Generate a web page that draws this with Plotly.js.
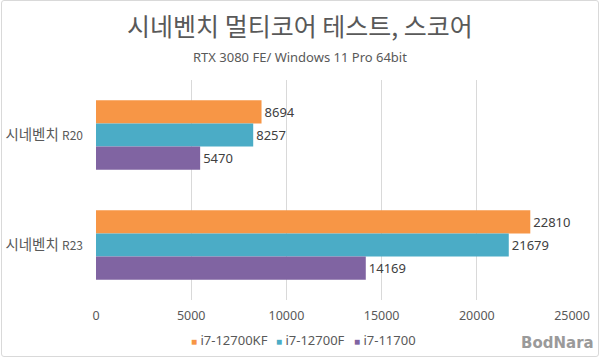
<!DOCTYPE html>
<html><head><meta charset="utf-8">
<script src="https://cdn.plot.ly/plotly-3.0.1.min.js"></script>
<style>
html,body{margin:0;padding:0;background:#fff;}
#wrap{position:relative;width:600px;height:357px;}
#chart{width:600px;height:357px;}
#frame{position:absolute;left:1px;top:0;width:596px;height:355px;border:1px solid #d9d9d9;border-radius:3px;pointer-events:none;}
</style></head>
<body><div id="wrap"><div id="chart"></div><div id="frame"></div></div>
<script>
const categories = ['시네벤치 <span style="font-size:12px">R20</span>', '시네벤치 <span style="font-size:12px">R23</span>'];
const seriesNames = ['i7-12700KF', 'i7-12700F', 'i7-11700'];
const valsKF = [8694, 22810];
const valsF = [8257, 21679];
const vals11700 = [5470, 14169];
const colors = ['#F79646', '#4BACC6', '#8064A2'];
const xTicks = [0, 5000, 10000, 15000, 20000, 25000];

const series = [valsKF, valsF, vals11700];
const traces = series.map((v, i) => ({
  type: 'bar', orientation: 'h', name: seriesNames[i],
  x: v, y: categories,
  marker: {color: colors[i]},
  text: v.map(String), textposition: 'outside',
  textfont: {family: 'Noto Sans, sans-serif', size: 13, color: '#404040'},
  cliponaxis: false, hoverinfo: 'x+name', showlegend: false
}));

// custom legend (left edges in pixels)
const legendX = [189, 274, 352];
const legendAnn = seriesNames.map((n, i) => ({
  text: '<span style="color:' + colors[i] + ';font-size:10px">■</span> ' + n,
  xref: 'paper', yref: 'paper', x: (legendX[i] - 96) / 476, y: -40 / 220,
  xanchor: 'left', yanchor: 'middle', showarrow: false,
  font: {family: '"Noto Sans", sans-serif', size: 13, color: '#595959'}
}));

const layout = {
  width: 600, height: 357,
  margin: {l: 96, r: 28, t: 80, b: 57},
  paper_bgcolor: '#fff', plot_bgcolor: '#fff',
  font: {family: '"Noto Sans CJK KR", "Noto Sans", sans-serif', color: '#595959'},
  title: {text: '시네벤치 멀티코어 테스트, 스코어', x: 0.5, xref: 'container', y: 0.925, yref: 'container', yanchor: 'middle',
    font: {family: '"Noto Sans CJK KR", sans-serif', size: 25, color: '#595959'}},
  annotations: [
    {text: 'RTX 3080 FE/ Windows 11 Pro 64bit', xref: 'paper', yref: 'paper', x: (300-96)/476, y: 1 + 23/220,
     xanchor: 'center', yanchor: 'middle', showarrow: false,
     font: {family: '"Noto Sans", sans-serif', size: 13, color: '#595959'}},
    {text: '<b>BodNara</b>', xref: 'paper', yref: 'paper', x: (596-96)/476, y: -43/220,
     xanchor: 'right', yanchor: 'middle', showarrow: false,
     font: {family: '"DejaVu Sans", sans-serif', size: 15, color: '#9a9a9a'}}
  ].concat(legendAnn),
  barmode: 'group', bargap: 0.37, bargroupgap: 0,
  xaxis: {range: [0, 25000], tickvals: xTicks, ticktext: xTicks.map(String),
    showgrid: true, gridcolor: '#D9D9D9', gridwidth: 1, zeroline: false, showline: false,
    ticks: '', ticklabelstandoff: 6,
    tickfont: {family: '"Noto Sans", sans-serif', size: 12.5, color: '#595959'}},
  yaxis: {autorange: 'reversed', showgrid: false, zeroline: false, showline: false, ticks: '',
    ticklabelstandoff: 12,
    tickfont: {family: '"Noto Sans CJK KR", sans-serif', size: 14.5, color: '#595959'}},
  showlegend: false
};
Plotly.newPlot('chart', traces, layout, {displayModeBar: false, staticPlot: true});
</script></body></html>
